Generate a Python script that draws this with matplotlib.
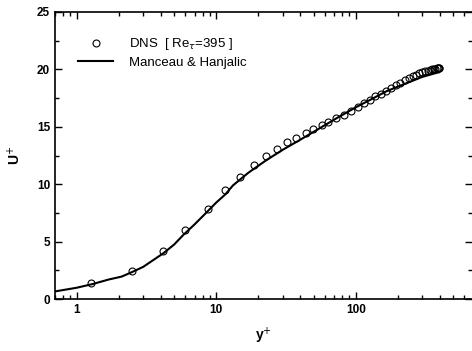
import matplotlib
matplotlib.use("Agg")
import matplotlib.pyplot as plt
from matplotlib.ticker import LogLocator, MultipleLocator, NullFormatter, FixedLocator, FixedFormatter

# DNS data (Re_tau = 395)
dns_y = [1.27, 2.49, 4.15, 5.95, 8.74, 11.6, 14.9, 18.7, 22.6, 27.3, 32.2, 37.6,
         43.8, 49, 56.8, 63.4, 72.7, 82, 92, 103, 114, 126, 138, 151, 165, 179,
         194, 209, 224, 240, 255, 270, 285, 300, 314, 327, 340, 352, 362, 372,
         380, 387, 392, 395]
dns_u = [1.37, 2.47, 4.18, 6.0, 7.81, 9.5, 10.65, 11.67, 12.46, 13.07, 13.7, 14.0,
         14.43, 14.78, 15.16, 15.44, 15.74, 16.05, 16.4, 16.75, 17.05, 17.35, 17.65,
         17.9, 18.15, 18.4, 18.65, 18.85, 19.05, 19.25, 19.4, 19.55, 19.65, 19.75,
         19.85, 19.9, 19.95, 20.0, 20.03, 20.06, 20.08, 20.1, 20.1, 20.1]

# Manceau & Hanjalic model
mh_y = [0.7, 1.0, 1.3, 1.7, 2.1, 2.5, 3.0, 3.5, 4.2, 5.0, 5.8, 7.0, 8.7, 10, 11.6,
        13.2, 17, 22.9, 30, 39.7, 55, 72.7, 100, 126, 166, 231, 300, 379, 395]
mh_u = [0.66, 0.98, 1.3, 1.7, 1.95, 2.35, 2.8, 3.35, 4.0, 4.75, 5.57, 6.5, 7.65, 8.4, 9.1,
        9.9, 11.0, 12.1, 13.0, 13.85, 14.87, 15.74, 16.7, 17.33, 18.1, 18.8, 19.35, 19.7, 19.75]

plt.rcParams['font.family'] = ['Liberation Sans', 'DejaVu Sans']

fig = plt.figure(figsize=(4.72, 3.51), dpi=100)
ax = fig.add_axes([55/472, 1-299/351, 1-55/472, (299-12)/351])

ax.plot(mh_y, mh_u, color='black', lw=1.5, label='Manceau & Hanjalic', zorder=2)
ax.plot(dns_y, dns_u, linestyle='none', marker='o', markersize=5,
        markerfacecolor='none', markeredgecolor='black', markeredgewidth=0.8,
        label=r'DNS  [ Re$_\tau$=395 ]', zorder=3)

ax.set_xscale('log')
ax.set_xlim(0.7, 680)
ax.set_ylim(0, 25)

ax.xaxis.set_major_locator(FixedLocator([1, 10, 100]))
ax.xaxis.set_major_formatter(FixedFormatter(['1', '10', '100']))
ax.xaxis.set_minor_locator(LogLocator(base=10, subs=range(2, 10)))
ax.xaxis.set_minor_formatter(NullFormatter())
ax.yaxis.set_major_locator(MultipleLocator(5))
ax.yaxis.set_minor_locator(MultipleLocator(2.5))

ax.tick_params(which='both', direction='in', top=True, right=True,
               labelsize=8.5, width=1)
ax.tick_params(which='major', length=5)
ax.tick_params(which='minor', length=3)
for lab in ax.get_xticklabels() + ax.get_yticklabels():
    lab.set_fontweight('bold')

ax.spines['right'].set_visible(False)
for s in ['left', 'bottom', 'top']:
    ax.spines[s].set_linewidth(1.2)

ax.set_xlabel(r'y$^{+}$', fontsize=10, fontweight='bold', labelpad=7)
ax.set_ylabel(r'U$^{+}$', fontsize=10, fontweight='bold', labelpad=10)

handles, labels = ax.get_legend_handles_labels()
leg = ax.legend(handles[::-1], labels[::-1], loc='upper left', frameon=False,
                fontsize=9.5, handlelength=2.6, borderaxespad=0.9,
                labelspacing=0.3, handletextpad=1.2,
                bbox_to_anchor=(0.015, 0.975))

fig.savefig('out.png', dpi=100)
